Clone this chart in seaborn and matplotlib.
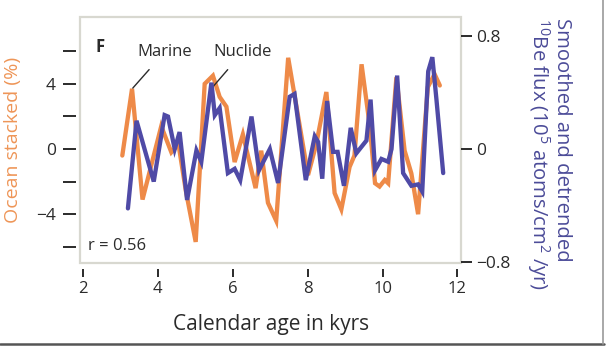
import matplotlib
matplotlib.use("Agg")
import matplotlib.pyplot as plt
import seaborn as sns
import pandas as pd
from matplotlib.lines import Line2D
from matplotlib.patches import Rectangle
from matplotlib.ticker import FixedLocator, FixedFormatter

# Marine record (ocean stacked, %) -- left axis
marine_age = [3.05, 3.31, 3.59, 4.09, 4.36, 4.55, 4.75, 5.01, 5.25, 5.47, 5.65,
              5.83, 6.05, 6.27, 6.61, 6.76, 6.94, 7.16, 7.48, 7.65, 8.01, 8.23,
              8.50, 8.72, 8.90, 9.12, 9.25, 9.44, 9.66, 9.80, 9.92, 10.06, 10.15,
              10.37, 10.59, 10.77, 10.95, 11.21, 11.39, 11.53]
marine_val = [-0.4, 3.7, -3.1, 1.4, -0.2, 0.3, -2.6, -5.7, 4.0, 4.5, 3.2,
              2.6, -0.8, 0.9, -2.4, -0.1, -3.3, -4.4, 5.6, 3.3, -1.6, 0.3,
              3.5, -2.7, -3.7, -1.1, -0.4, 5.2, 1.4, -2.1, -2.3, -1.9, -2.1,
              4.4, -0.1, -1.5, -4.0, 3.8, 4.6, 3.9]

# Nuclide record (smoothed, detrended 10Be flux) -- right axis
nuclide_age = [3.20, 3.43, 3.89, 4.18, 4.27, 4.45, 4.58, 4.78, 5.03, 5.16, 5.43,
               5.52, 5.65, 5.87, 6.05, 6.20, 6.50, 6.70, 6.99, 7.21, 7.52, 7.65,
               7.95, 8.19, 8.28, 8.39, 8.52, 8.68, 8.80, 8.97, 9.15, 9.30, 9.57,
               9.68, 9.80, 9.97, 10.15, 10.24, 10.39, 10.55, 10.77, 10.95, 11.06,
               11.22, 11.33, 11.44, 11.62]
nuclide_val = [-0.42, 0.20, -0.23, 0.24, 0.23, 0.00, 0.12, -0.36, -0.01, -0.09, 0.47,
               0.24, 0.29, -0.17, -0.14, -0.22, 0.23, -0.15, 0.00, -0.24, 0.37, 0.39,
               -0.22, 0.09, 0.05, -0.21, 0.34, -0.02, -0.02, -0.26, 0.15, -0.03, 0.06,
               0.35, -0.15, -0.07, -0.09, 0.00, 0.52, -0.17, -0.26, -0.25, -0.30,
               0.55, 0.65, 0.35, -0.17]

x_ticks = [2, 4, 6, 8, 10, 12]
left_ticks = [-6, -4, -2, 0, 2, 4, 6]
left_labels = ["", "\u22124", "", "0", "", "4", ""]
right_ticks = [-0.8, 0, 0.8]
right_labels = ["\u22120.8", "0", "0.8"]

ORANGE = "#EE8A48"
ORANGE_LABEL = "#EE9557"
BLUE = "#4F4AA6"
BLUE_LABEL = "#4B4B98"
TEXT = "#2b2b2b"

sns.set_theme(style="white")
plt.rcParams["font.family"] = ["Open Sans", "DejaVu Sans"]
plt.rcParams["mathtext.fontset"] = "custom"
plt.rcParams["mathtext.rm"] = "Open Sans"
plt.rcParams["mathtext.it"] = "Open Sans:italic"
plt.rcParams["mathtext.bf"] = "Open Sans:bold"

marine = pd.DataFrame({"age": marine_age, "value": marine_val})
nuclide = pd.DataFrame({"age": nuclide_age, "value": nuclide_val})

fig = plt.figure(figsize=(6.06, 3.48), dpi=100)
ax = fig.add_axes([0.132, 0.244, 0.629, 0.707])
ax2 = ax.twinx()

sns.lineplot(data=marine, x="age", y="value", ax=ax, color=ORANGE, lw=3.1,
             solid_joinstyle="miter")
sns.lineplot(data=nuclide, x="age", y="value", ax=ax2, color=BLUE, lw=3.1,
             solid_joinstyle="miter")

ax.set_xlim(1.92, 12.1)
ax.set_ylim(-7.0, 8.1)
ax2.set_ylim(-0.807, 0.934)

for a in (ax, ax2):
    for s in a.spines.values():
        s.set_visible(False)

# light frame around the plotting area
ax.add_patch(Rectangle((0, 0), 1, 1, transform=ax.transAxes, fill=False,
                       edgecolor="#d8d8d0", lw=1.6, zorder=5, clip_on=False))

ax.spines["left"].set_position(("outward", 3))
ax.spines["bottom"].set_position(("outward", 4))

ax.xaxis.set_major_locator(FixedLocator(x_ticks))
ax.set_xticklabels([str(t) for t in x_ticks])
ax.yaxis.set_major_locator(FixedLocator(left_ticks))
ax.yaxis.set_major_formatter(FixedFormatter(left_labels))
ax2.yaxis.set_major_locator(FixedLocator(right_ticks))
ax2.yaxis.set_major_formatter(FixedFormatter(right_labels))

ax.tick_params(axis="x", direction="out", length=6, width=1.4, color=TEXT,
               labelsize=12, labelcolor=TEXT, pad=3, bottom=True)
ax.tick_params(axis="y", direction="out", length=9.5, width=1.4, color=TEXT,
               labelsize=12.5, labelcolor=TEXT, pad=5, left=True)
ax2.tick_params(axis="y", direction="out", length=8, width=1.4, color=TEXT,
                labelsize=12.5, labelcolor=TEXT, pad=3, right=True)

ax.set_xlabel("Calendar age in kyrs", fontsize=15, color=TEXT, labelpad=12)
ax.set_ylabel("Ocean stacked (%)", fontsize=14, color=ORANGE_LABEL, labelpad=10)
ax2.set_ylabel("Smoothed and detrended\n$^{10}$Be flux (10$^{5}$ atoms/cm$^{2}$ /yr)",
               fontsize=14.6, color=BLUE_LABEL, rotation=270, labelpad=44,
               linespacing=1.0, multialignment="left")
ax2.yaxis.set_label_coords(1.29, 0.445)

ax.text(2.45, 6.25, "F", fontsize=12, fontweight="bold", color=TEXT,
        ha="center", va="center")
ax.annotate("Marine", xy=(3.33, 3.74), xytext=(4.18, 5.95), fontsize=12,
            color=TEXT, ha="center", va="center",
            arrowprops=dict(arrowstyle="-", color=TEXT, lw=1.0,
                            shrinkA=6, shrinkB=0))
ax.annotate("Nuclide", xy=(5.44, 3.74), xytext=(6.27, 5.95), fontsize=12,
            color=TEXT, ha="center", va="center",
            arrowprops=dict(arrowstyle="-", color=TEXT, lw=1.0,
                            shrinkA=6, shrinkB=0))
ax.text(2.13, -5.95, "r = 0.56", fontsize=12, color=TEXT, ha="left", va="center")

# thin outer frame with a soft shadow on the bottom and right
fig.add_artist(Line2D([0, 0.996], [0.011, 0.011], transform=fig.transFigure,
                      color="#555555", lw=1.8))
fig.add_artist(Line2D([0.995, 0.995], [0.011, 1.0], transform=fig.transFigure,
                      color="#9a9a9a", lw=1.2))

fig.savefig("out.png", dpi=100, facecolor="white")
